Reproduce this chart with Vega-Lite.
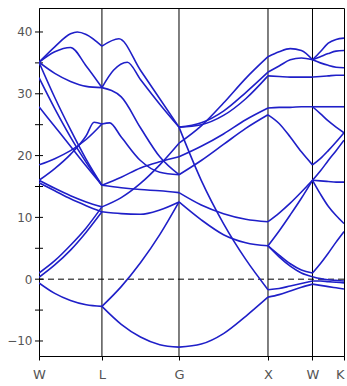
{
"$schema":"https://vega.github.io/schema/vega-lite/v6.json",
"width":305,"height":348,
"autosize":{"type":"none"},
"padding":{"left":39,"top":8,"right":3,"bottom":30},
"config":{"view":{"stroke":"black","strokeWidth":1},"axis":{"labelFont":"DejaVu Sans","grid":false,"title":null,"domainColor":"black","tickColor":"black","labelColor":"#555"}},
"layer":[
{"data":{"values":[{"k":0.707},{"k":1.573},{"k":2.573},{"k":3.073}]},
 "mark":{"type":"rule","color":"black","strokeWidth":1},
 "encoding":{"x":{"field":"k","type":"quantitative","scale":{"domain":[0,3.427],"nice":false,"zero":false},
   "axis":{"values":[0,0.707,1.573,2.573,3.073,3.427],"labelExpr":"datum.value==0?'W':datum.value<1?'L':datum.value<2?'G':datum.value<3?'X':datum.value<3.2?'W':'K'","labelAlign":{"expr":"datum.value>3.4?'right':'center'"},"tickSize":4,"labelFontSize":13,"labelPadding":8,"labelFlush":false,"labelOverlap":false}}}},
{"data":{"values":[{"e":0}]},
 "mark":{"type":"rule","color":"black","strokeWidth":1,"strokeDash":[6,4]},
 "encoding":{"y":{"field":"e","type":"quantitative","scale":{"domain":[-12.43,43.88],"nice":false,"zero":false},
   "axis":{"values":[-10,0,10,20,30,40],"ticks":false,"labelFontSize":12,"labelPadding":7}}}},
{"data":{"values":[{"k":0,"e":-10},{"k":0,"e":-5},{"k":0,"e":0},{"k":0,"e":5},{"k":0,"e":10},{"k":0,"e":15},{"k":0,"e":20},{"k":0,"e":25},{"k":0,"e":30},{"k":0,"e":35},{"k":0,"e":40}]},
 "mark":{"type":"tick","orient":"horizontal","size":8,"thickness":1,"color":"black","opacity":1},
 "encoding":{
  "x":{"field":"k","type":"quantitative","scale":{"domain":[0,3.427],"nice":false,"zero":false},
   "axis":{"values":[0,0.707,1.573,2.573,3.073,3.427],"labelExpr":"datum.value==0?'W':datum.value<1?'L':datum.value<2?'G':datum.value<3?'X':datum.value<3.2?'W':'K'","labelAlign":{"expr":"datum.value>3.4?'right':'center'"},"tickSize":4,"labelFontSize":13,"labelPadding":8,"labelFlush":false,"labelOverlap":false}},
  "y":{"field":"e","type":"quantitative","scale":{"domain":[-12.43,43.88],"nice":false,"zero":false},
   "axis":{"values":[-10,0,10,20,30,40],"ticks":false,"labelFontSize":12,"labelPadding":7}}}},
{"data":{"values":[
{"s":"A1","k":0,"e":-0.6},{"s":"A1","k":0.177,"e":-2.3},{"s":"A1","k":0.354,"e":-3.45},{"s":"A1","k":0.53,"e":-4.15},{"s":"A1","k":0.707,"e":-4.4},
{"s":"A2","k":0,"e":0.3},{"s":"A2","k":0.177,"e":2.3},{"s":"A2","k":0.354,"e":4.7},{"s":"A2","k":0.53,"e":7.6},{"s":"A2","k":0.707,"e":10.9},
{"s":"A3","k":0,"e":1.0},{"s":"A3","k":0.177,"e":3.0},{"s":"A3","k":0.354,"e":5.5},{"s":"A3","k":0.53,"e":8.3},{"s":"A3","k":0.707,"e":11.7},
{"s":"A4","k":0,"e":16.0},{"s":"A4","k":0.177,"e":14.7},{"s":"A4","k":0.354,"e":13.5},{"s":"A4","k":0.53,"e":12.5},{"s":"A4","k":0.707,"e":11.7},
{"s":"A5","k":0,"e":15.6},{"s":"A5","k":0.177,"e":14.3},{"s":"A5","k":0.354,"e":13.0},{"s":"A5","k":0.53,"e":11.9},{"s":"A5","k":0.707,"e":10.9},
{"s":"A6","k":0,"e":16.0},{"s":"A6","k":0.177,"e":17.9},{"s":"A6","k":0.354,"e":20.2},{"s":"A6","k":0.53,"e":23.2},{"s":"A6","k":0.619,"e":25.4},{"s":"A6","k":0.707,"e":25.1},
{"s":"A7","k":0,"e":18.5},{"s":"A7","k":0.177,"e":19.5},{"s":"A7","k":0.354,"e":20.8},{"s":"A7","k":0.53,"e":22.6},{"s":"A7","k":0.707,"e":25.1},
{"s":"A8","k":0,"e":32.6},{"s":"A8","k":0.177,"e":27.6},{"s":"A8","k":0.354,"e":23.0},{"s":"A8","k":0.53,"e":18.9},{"s":"A8","k":0.707,"e":15.2},
{"s":"A9","k":0,"e":35.1},{"s":"A9","k":0.177,"e":29.4},{"s":"A9","k":0.354,"e":24.2},{"s":"A9","k":0.53,"e":19.4},{"s":"A9","k":0.707,"e":15.2},
{"s":"A10","k":0,"e":27.9},{"s":"A10","k":0.177,"e":24.7},{"s":"A10","k":0.354,"e":21.5},{"s":"A10","k":0.53,"e":18.3},{"s":"A10","k":0.707,"e":15.2},
{"s":"A11","k":0,"e":35.1},{"s":"A11","k":0.177,"e":33.3},{"s":"A11","k":0.354,"e":32.0},{"s":"A11","k":0.53,"e":31.2},{"s":"A11","k":0.707,"e":31.0},
{"s":"A12","k":0,"e":35.1},{"s":"A12","k":0.177,"e":36.8},{"s":"A12","k":0.354,"e":37.5},{"s":"A12","k":0.53,"e":34.5},{"s":"A12","k":0.707,"e":31.0},
{"s":"A13","k":0,"e":35.1},{"s":"A13","k":0.177,"e":37.6},{"s":"A13","k":0.354,"e":39.7},{"s":"A13","k":0.43,"e":40.0},{"s":"A13","k":0.53,"e":39.6},{"s":"A13","k":0.707,"e":37.7},
{"s":"B1","k":0.707,"e":-4.4},{"s":"B1","k":0.924,"e":-7.3},{"s":"B1","k":1.14,"e":-9.35},{"s":"B1","k":1.357,"e":-10.6},{"s":"B1","k":1.573,"e":-11.0},
{"s":"B2","k":0.707,"e":-4.4},{"s":"B2","k":0.924,"e":-1.2},{"s":"B2","k":1.14,"e":2.65},{"s":"B2","k":1.357,"e":7.2},{"s":"B2","k":1.573,"e":12.5},
{"s":"B3","k":0.707,"e":10.9},{"s":"B3","k":0.924,"e":10.6},{"s":"B3","k":1.14,"e":10.5},{"s":"B3","k":1.357,"e":11.2},{"s":"B3","k":1.573,"e":12.5},
{"s":"B4","k":0.707,"e":11.7},{"s":"B4","k":0.924,"e":13.2},{"s":"B4","k":1.14,"e":15.5},{"s":"B4","k":1.357,"e":18.5},{"s":"B4","k":1.573,"e":22.0},
{"s":"B5","k":0.707,"e":15.2},{"s":"B5","k":0.924,"e":14.8},{"s":"B5","k":1.14,"e":14.5},{"s":"B5","k":1.357,"e":14.3},{"s":"B5","k":1.573,"e":14.0},
{"s":"B6","k":0.707,"e":15.2},{"s":"B6","k":0.924,"e":16.5},{"s":"B6","k":1.14,"e":18.0},{"s":"B6","k":1.357,"e":19.0},{"s":"B6","k":1.573,"e":19.8},
{"s":"B7","k":0.707,"e":25.1},{"s":"B7","k":0.794,"e":25.3},{"s":"B7","k":0.924,"e":23.0},{"s":"B7","k":1.14,"e":19.2},{"s":"B7","k":1.357,"e":17.3},{"s":"B7","k":1.573,"e":16.9},
{"s":"B8","k":0.707,"e":31.0},{"s":"B8","k":0.924,"e":29.5},{"s":"B8","k":1.14,"e":24.5},{"s":"B8","k":1.357,"e":19.8},{"s":"B8","k":1.573,"e":16.9},
{"s":"B9","k":0.707,"e":31.0},{"s":"B9","k":0.837,"e":33.8},{"s":"B9","k":0.993,"e":35.1},{"s":"B9","k":1.14,"e":32.3},{"s":"B9","k":1.357,"e":28.3},{"s":"B9","k":1.573,"e":24.6},
{"s":"B10","k":0.707,"e":37.7},{"s":"B10","k":0.898,"e":38.9},{"s":"B10","k":1.14,"e":33.8},{"s":"B10","k":1.357,"e":29.2},{"s":"B10","k":1.573,"e":24.6},
{"s":"C1","k":1.573,"e":-11.0},{"s":"C1","k":1.823,"e":-10.5},{"s":"C1","k":2.073,"e":-8.8},{"s":"C1","k":2.323,"e":-6.0},{"s":"C1","k":2.573,"e":-2.9},
{"s":"C2","k":1.573,"e":24.6},{"s":"C2","k":1.823,"e":16.0},{"s":"C2","k":2.073,"e":9.0},{"s":"C2","k":2.323,"e":3.2},{"s":"C2","k":2.573,"e":-1.7},
{"s":"C3","k":1.573,"e":14.0},{"s":"C3","k":1.823,"e":12.0},{"s":"C3","k":2.073,"e":10.6},{"s":"C3","k":2.323,"e":9.7},{"s":"C3","k":2.573,"e":9.3},
{"s":"C4","k":1.573,"e":12.5},{"s":"C4","k":1.823,"e":9.6},{"s":"C4","k":2.073,"e":7.2},{"s":"C4","k":2.323,"e":5.9},{"s":"C4","k":2.573,"e":5.4},
{"s":"C5","k":1.573,"e":24.6},{"s":"C5","k":1.823,"e":25.0},{"s":"C5","k":2.073,"e":26.5},{"s":"C5","k":2.323,"e":29.2},{"s":"C5","k":2.573,"e":32.9},
{"s":"C6","k":1.573,"e":24.6},{"s":"C6","k":1.823,"e":25.3},{"s":"C6","k":2.073,"e":27.2},{"s":"C6","k":2.323,"e":30.2},{"s":"C6","k":2.573,"e":33.5},
{"s":"C7","k":1.573,"e":22.0},{"s":"C7","k":1.823,"e":24.8},{"s":"C7","k":2.073,"e":28.5},{"s":"C7","k":2.323,"e":32.5},{"s":"C7","k":2.573,"e":36.0},
{"s":"C8","k":1.573,"e":19.8},{"s":"C8","k":1.823,"e":21.5},{"s":"C8","k":2.073,"e":23.5},{"s":"C8","k":2.323,"e":25.8},{"s":"C8","k":2.573,"e":27.7},
{"s":"C9","k":1.573,"e":16.9},{"s":"C9","k":1.823,"e":19.2},{"s":"C9","k":2.073,"e":21.8},{"s":"C9","k":2.323,"e":24.4},{"s":"C9","k":2.573,"e":26.6},
{"s":"D1","k":2.573,"e":-1.7},{"s":"D1","k":2.698,"e":-1.5},{"s":"D1","k":2.823,"e":-1.1},{"s":"D1","k":2.948,"e":-0.7},{"s":"D1","k":3.073,"e":-0.3},
{"s":"D2","k":2.573,"e":-2.9},{"s":"D2","k":2.698,"e":-2.5},{"s":"D2","k":2.823,"e":-1.9},{"s":"D2","k":2.948,"e":-1.3},{"s":"D2","k":3.073,"e":-0.8},
{"s":"D3","k":2.573,"e":5.4},{"s":"D3","k":2.698,"e":3.9},{"s":"D3","k":2.823,"e":2.5},{"s":"D3","k":2.948,"e":1.5},{"s":"D3","k":3.073,"e":1.0},
{"s":"D4","k":2.573,"e":5.4},{"s":"D4","k":2.698,"e":3.6},{"s":"D4","k":2.823,"e":2.1},{"s":"D4","k":2.948,"e":1.0},{"s":"D4","k":3.073,"e":0.4},
{"s":"D5","k":2.573,"e":9.3},{"s":"D5","k":2.698,"e":10.7},{"s":"D5","k":2.823,"e":12.3},{"s":"D5","k":2.948,"e":14.1},{"s":"D5","k":3.073,"e":16.0},
{"s":"D6","k":2.573,"e":5.4},{"s":"D6","k":2.698,"e":7.8},{"s":"D6","k":2.823,"e":10.4},{"s":"D6","k":2.948,"e":13.1},{"s":"D6","k":3.073,"e":16.0},
{"s":"D7","k":2.573,"e":26.6},{"s":"D7","k":2.698,"e":25.2},{"s":"D7","k":2.823,"e":23.0},{"s":"D7","k":2.948,"e":20.6},{"s":"D7","k":3.073,"e":18.5},
{"s":"D8","k":2.573,"e":27.7},{"s":"D8","k":2.698,"e":27.8},{"s":"D8","k":2.823,"e":27.8},{"s":"D8","k":2.948,"e":27.9},{"s":"D8","k":3.073,"e":27.9},
{"s":"D9","k":2.573,"e":32.9},{"s":"D9","k":2.698,"e":32.8},{"s":"D9","k":2.823,"e":32.7},{"s":"D9","k":2.948,"e":32.7},{"s":"D9","k":3.073,"e":32.7},
{"s":"D10","k":2.573,"e":33.5},{"s":"D10","k":2.698,"e":34.5},{"s":"D10","k":2.823,"e":35.5},{"s":"D10","k":2.948,"e":35.8},{"s":"D10","k":3.073,"e":35.5},
{"s":"D11","k":2.573,"e":36.0},{"s":"D11","k":2.698,"e":36.8},{"s":"D11","k":2.823,"e":37.3},{"s":"D11","k":2.948,"e":37.0},{"s":"D11","k":3.073,"e":35.5},
{"s":"E1","k":3.073,"e":-0.3},{"s":"E1","k":3.161,"e":-0.3},{"s":"E1","k":3.25,"e":-0.4},{"s":"E1","k":3.338,"e":-0.5},{"s":"E1","k":3.427,"e":-0.6},
{"s":"E2","k":3.073,"e":-0.8},{"s":"E2","k":3.161,"e":-1.0},{"s":"E2","k":3.25,"e":-1.2},{"s":"E2","k":3.338,"e":-1.4},{"s":"E2","k":3.427,"e":-1.6},
{"s":"E3","k":3.073,"e":0.4},{"s":"E3","k":3.161,"e":0.1},{"s":"E3","k":3.25,"e":-0.1},{"s":"E3","k":3.338,"e":-0.2},{"s":"E3","k":3.427,"e":-0.3},
{"s":"E4","k":3.073,"e":1.0},{"s":"E4","k":3.161,"e":2.5},{"s":"E4","k":3.25,"e":4.2},{"s":"E4","k":3.338,"e":6.0},{"s":"E4","k":3.427,"e":7.7},
{"s":"E5","k":3.073,"e":16.0},{"s":"E5","k":3.161,"e":15.9},{"s":"E5","k":3.25,"e":15.8},{"s":"E5","k":3.338,"e":15.7},{"s":"E5","k":3.427,"e":15.7},
{"s":"E6","k":3.073,"e":16.0},{"s":"E6","k":3.161,"e":13.8},{"s":"E6","k":3.25,"e":11.8},{"s":"E6","k":3.338,"e":10.3},{"s":"E6","k":3.427,"e":9.0},
{"s":"E7","k":3.073,"e":18.5},{"s":"E7","k":3.161,"e":19.5},{"s":"E7","k":3.25,"e":20.8},{"s":"E7","k":3.338,"e":22.2},{"s":"E7","k":3.427,"e":23.7},
{"s":"E8","k":3.073,"e":16.0},{"s":"E8","k":3.161,"e":17.5},{"s":"E8","k":3.25,"e":19.2},{"s":"E8","k":3.338,"e":20.8},{"s":"E8","k":3.427,"e":22.5},
{"s":"E9","k":3.073,"e":27.9},{"s":"E9","k":3.161,"e":27.9},{"s":"E9","k":3.25,"e":27.9},{"s":"E9","k":3.338,"e":27.9},{"s":"E9","k":3.427,"e":27.9},
{"s":"E10","k":3.073,"e":27.9},{"s":"E10","k":3.161,"e":26.8},{"s":"E10","k":3.25,"e":25.6},{"s":"E10","k":3.338,"e":24.6},{"s":"E10","k":3.427,"e":23.7},
{"s":"E11","k":3.073,"e":32.7},{"s":"E11","k":3.161,"e":32.8},{"s":"E11","k":3.25,"e":32.9},{"s":"E11","k":3.338,"e":33.0},{"s":"E11","k":3.427,"e":33.0},
{"s":"E12","k":3.073,"e":35.5},{"s":"E12","k":3.161,"e":35.0},{"s":"E12","k":3.25,"e":34.6},{"s":"E12","k":3.338,"e":34.3},{"s":"E12","k":3.427,"e":34.2},
{"s":"E13","k":3.073,"e":35.5},{"s":"E13","k":3.161,"e":36.0},{"s":"E13","k":3.25,"e":36.5},{"s":"E13","k":3.338,"e":36.9},{"s":"E13","k":3.427,"e":37.0},
{"s":"E14","k":3.073,"e":35.5},{"s":"E14","k":3.161,"e":36.8},{"s":"E14","k":3.25,"e":38.2},{"s":"E14","k":3.338,"e":38.8},{"s":"E14","k":3.427,"e":39.0}
]},
 "mark":{"type":"line","color":"#1f1fc8","strokeWidth":1.6,"interpolate":"monotone","clip":true},
 "encoding":{
  "x":{"field":"k","type":"quantitative","scale":{"domain":[0,3.427],"nice":false,"zero":false},
   "axis":{"values":[0,0.707,1.573,2.573,3.073,3.427],"labelExpr":"datum.value==0?'W':datum.value<1?'L':datum.value<2?'G':datum.value<3?'X':datum.value<3.2?'W':'K'","labelAlign":{"expr":"datum.value>3.4?'right':'center'"},"tickSize":4,"labelFontSize":13,"labelPadding":8,"labelFlush":false,"labelOverlap":false}},
  "y":{"field":"e","type":"quantitative","scale":{"domain":[-12.43,43.88],"nice":false,"zero":false},
   "axis":{"values":[-10,0,10,20,30,40],"ticks":false,"labelFontSize":12,"labelPadding":7}},
  "detail":{"field":"s","type":"nominal"}}}
]
}
